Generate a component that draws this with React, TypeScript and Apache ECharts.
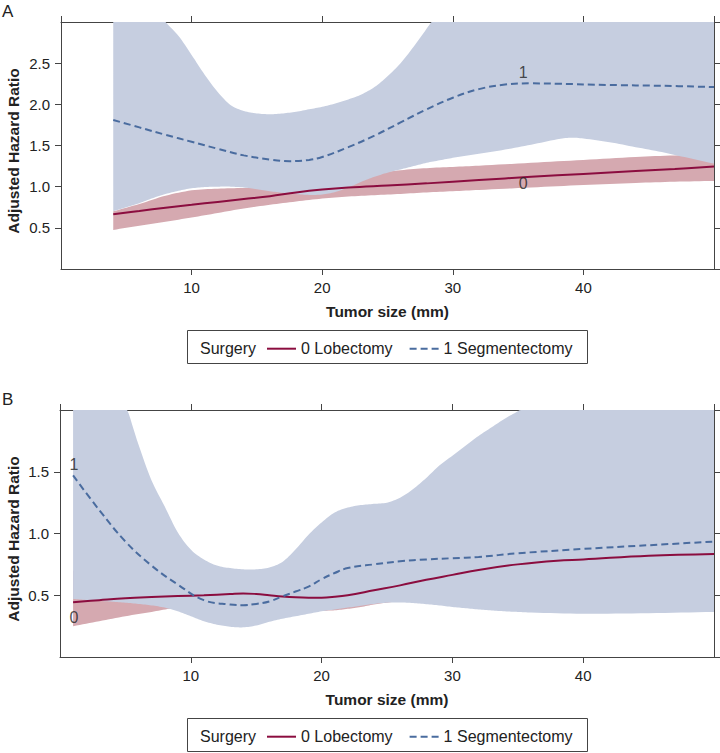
import React, { useEffect, useRef } from 'react';
import * as echarts from 'echarts';

// ---------------- Panel A data ----------------
const aLobX = [4, 6, 8, 10, 12, 14, 16, 18, 20, 22, 25, 28, 32, 36, 40, 44, 47, 50];
const aLobY = [0.665, 0.705, 0.745, 0.78, 0.815, 0.85, 0.885, 0.93, 0.965, 0.99, 1.015, 1.04, 1.08, 1.12, 1.155, 1.19, 1.215, 1.245];

const aSegX = [4, 6, 8, 10, 12, 14, 16, 17.5, 19, 20, 22, 24, 26, 28, 30, 32, 34, 36, 38, 42, 46, 50];
const aSegY = [1.81, 1.72, 1.63, 1.545, 1.46, 1.38, 1.33, 1.31, 1.325, 1.36, 1.48, 1.62, 1.78, 1.94, 2.08, 2.185, 2.24, 2.255, 2.25, 2.235, 2.225, 2.21];

const aLobBandX = [4, 6, 8, 10, 12, 14, 16, 18, 20, 22, 24, 26, 28, 30, 32, 36, 40, 44, 47, 50];
const aLobBandLo = [0.475, 0.525, 0.575, 0.625, 0.68, 0.735, 0.78, 0.82, 0.855, 0.88, 0.897, 0.912, 0.93, 0.945, 0.96, 0.99, 1.02, 1.045, 1.06, 1.07];
const aLobBandHi = [0.7, 0.79, 0.89, 0.955, 0.975, 0.985, 0.995, 1.02, 1.05, 1.1, 1.16, 1.2, 1.225, 1.24, 1.255, 1.29, 1.325, 1.36, 1.38, 1.39];

const aSegBandX = [4, 5, 6, 7, 8, 9, 10, 11, 12, 13, 14, 15, 16, 17, 18, 19, 20, 21, 22, 23, 24, 25, 26, 27, 28, 29, 30, 32, 34, 36, 38, 39, 40, 42, 44, 46, 48, 50];
const aSegBandLo = [0.7, 0.75, 0.8, 0.86, 0.91, 0.95, 0.98, 0.995, 1.0, 1.0, 0.99, 0.97, 0.945, 0.925, 0.91, 0.9, 0.905, 0.935, 0.99, 1.06, 1.12, 1.17, 1.21, 1.25, 1.29, 1.32, 1.35, 1.4, 1.45, 1.51, 1.575, 1.595, 1.585, 1.54, 1.48, 1.42, 1.35, 1.28];
const aSegBandHi = [4.0, 3.7, 3.42, 3.2, 3.0, 2.83, 2.6, 2.36, 2.15, 1.99, 1.92, 1.89, 1.88, 1.89, 1.91, 1.94, 1.97, 2.01, 2.06, 2.12, 2.21, 2.34, 2.5, 2.7, 2.92, 3.15, 3.4, 3.8, 4.1, 4.3, 4.45, 4.5, 4.55, 4.65, 4.7, 4.75, 4.8, 4.85];

const aCurveLabels = [
  { text: '1', x: 35.4, y: 2.39 },
  { text: '0', x: 35.4, y: 1.04 },
];

// ---------------- Panel B data ----------------
const bLobX = [1, 3, 5, 7, 9, 11, 13, 14, 15, 16, 17, 18, 19, 20, 21, 22, 24, 26, 28, 30, 32, 35, 38, 40, 45, 50];
const bLobY = [0.444, 0.46, 0.475, 0.485, 0.493, 0.5, 0.51, 0.515, 0.51, 0.5, 0.49, 0.483, 0.48, 0.48, 0.487, 0.5, 0.54, 0.58, 0.625, 0.665, 0.705, 0.75, 0.78, 0.79, 0.82, 0.835];

const bSegX = [1, 3, 5, 7, 9, 11, 13, 14, 15, 16, 17, 18, 19, 20, 21, 22, 24, 26, 28, 30, 32, 35, 40, 45, 50];
const bSegY = [1.47, 1.19, 0.935, 0.74, 0.587, 0.46, 0.425, 0.42, 0.43, 0.45, 0.49, 0.53, 0.57, 0.63, 0.68, 0.72, 0.75, 0.775, 0.79, 0.8, 0.81, 0.84, 0.875, 0.905, 0.935];

const bLobBandX = [1, 3, 5, 7, 8.4, 10, 12, 14, 16, 18, 20, 21, 22, 23, 24, 25, 26, 27, 30, 35, 40, 45, 50];
const bLobBandLo = [0.25, 0.29, 0.33, 0.365, 0.39, 0.4, 0.4, 0.39, 0.38, 0.375, 0.375, 0.378, 0.39, 0.405, 0.425, 0.44, 0.455, 0.47, 0.53, 0.6, 0.64, 0.66, 0.68];
const bLobBandHi = [0.7, 0.66, 0.63, 0.61, 0.6, 0.6, 0.61, 0.62, 0.62, 0.61, 0.6, 0.61, 0.63, 0.65, 0.67, 0.7, 0.72, 0.74, 0.8, 0.88, 0.93, 0.96, 0.98];

const bSegBandX = [1, 2, 3, 4, 5, 6, 7, 8, 9, 10, 11, 12, 13, 14, 15, 16, 17, 18, 19, 20, 21, 22, 23, 24, 25, 26, 27, 28, 29, 30, 31, 32, 33, 34, 35, 36, 40, 45, 50];
const bSegBandLo = [0.47, 0.462, 0.455, 0.448, 0.44, 0.43, 0.418, 0.4, 0.37, 0.33, 0.29, 0.262, 0.245, 0.24, 0.255, 0.285, 0.31, 0.33, 0.35, 0.37, 0.385, 0.4, 0.415, 0.43, 0.44, 0.442, 0.437, 0.428, 0.418, 0.405, 0.395, 0.385, 0.377, 0.37, 0.365, 0.36, 0.35, 0.355, 0.365];
const bSegBandHi = [3.5, 3.0, 2.6, 2.3, 2.05, 1.72, 1.43, 1.22, 1.01, 0.87, 0.79, 0.74, 0.72, 0.71, 0.71, 0.725, 0.77, 0.87, 0.99, 1.09, 1.17, 1.21, 1.23, 1.24, 1.25, 1.29, 1.36, 1.45, 1.55, 1.63, 1.71, 1.79, 1.86, 1.93, 1.99, 2.06, 2.3, 2.6, 2.9];

const bCurveLabels = [
  { text: '1', x: 1.07, y: 1.555 },
  { text: '0', x: 1.07, y: 0.32 },
];

// ---------------- Text ----------------
const legendNames = ['0 Lobectomy', '1 Segmentectomy'];
const legendTitle = 'Surgery';
const xTitle = 'Tumor size (mm)';
const yTitle = 'Adjusted Hazard Ratio';
const panelLetters = ['A', 'B'];

const X_MIN = 0;
const X_MAX = 50;
const X_INTERVAL = 10;
const Y_INTERVAL = 0.5;
const A_Y_MAX = 3;
const B_Y_MAX = 2;

// ---------------- Styles ----------------
const FONT = "'Liberation Sans', Arial, Helvetica, sans-serif";
const TEXT = '#222';
const AXIS = '#444';
const LOB_LINE = '#8b0d3f';
const SEG_LINE = '#4a6c9f';
const LOB_BAND = '#d5a9b0';
const SEG_BAND = '#c6cee0';

const zip = (xs: number[], ys: number[]) => xs.map((x, i) => [x, ys[i]]);

// Smooth (cubic Hermite / Catmull-Rom style) rendering of a polyline given in pixel space
function smoothPixels(pts: number[][], steps: number): number[][] {
  const n = pts.length;
  if (n < 3) return pts.slice();
  const m: number[] = [];
  for (let i = 0; i < n; i++) {
    const a = pts[Math.max(0, i - 1)];
    const b = pts[Math.min(n - 1, i + 1)];
    m.push((b[1] - a[1]) / (b[0] - a[0] || 1));
  }
  const out: number[][] = [];
  for (let i = 0; i < n - 1; i++) {
    const [x0, y0] = pts[i];
    const [x1, y1] = pts[i + 1];
    const h = x1 - x0;
    for (let s = 0; s < steps; s++) {
      const t = s / steps;
      const t2 = t * t;
      const t3 = t2 * t;
      const h00 = 2 * t3 - 3 * t2 + 1;
      const h10 = t3 - 2 * t2 + t;
      const h01 = -2 * t3 + 3 * t2;
      const h11 = t3 - t2;
      out.push([x0 + h * t, h00 * y0 + h10 * h * m[i] + h01 * y1 + h11 * h * m[i + 1]]);
    }
  }
  out.push(pts[n - 1]);
  return out;
}

function bandSeries(name: string, xs: number[], lo: number[], hi: number[], color: string, axisIdx: number, z: number) {
  return {
    type: 'custom',
    name,
    xAxisIndex: axisIdx,
    yAxisIndex: axisIdx,
    clip: true,
    silent: true,
    z,
    data: [[xs[0], lo[0]]],
    renderItem: (params: any, api: any) => {
      const cs = params.coordSys;
      const top = cs.y;
      const bottom = cs.y + cs.height;
      const clampY = (v: number) => Math.max(top, Math.min(bottom, v));
      const loPx = xs.map((x, i) => api.coord([x, lo[i]]));
      const hiPx = xs.map((x, i) => api.coord([x, hi[i]]));
      const loS = smoothPixels(loPx, 8).map((p) => [p[0], clampY(p[1])]);
      const hiS = smoothPixels(hiPx, 8).map((p) => [p[0], clampY(p[1])]).reverse();
      return {
        type: 'polygon',
        shape: { points: loS.concat(hiS) },
        style: { fill: color, stroke: null },
      };
    },
  };
}

function lineSeries(name: string, xs: number[], ys: number[], color: string, dashed: boolean, axisIdx: number, z: number) {
  return {
    type: 'line',
    name,
    xAxisIndex: axisIdx,
    yAxisIndex: axisIdx,
    data: zip(xs, ys),
    smooth: 0.4,
    symbol: 'none',
    showSymbol: false,
    silent: true,
    z,
    lineStyle: { color, width: 2, type: dashed ? [7, 4] : 'solid' },
    itemStyle: { color },
  };
}

function labelSeries(labels: { text: string; x: number; y: number }[], axisIdx: number) {
  return {
    type: 'scatter',
    name: 'curve labels ' + axisIdx,
    xAxisIndex: axisIdx,
    yAxisIndex: axisIdx,
    symbolSize: 1,
    silent: true,
    z: 10,
    itemStyle: { color: 'transparent' },
    label: {
      show: true,
      position: 'inside',
      formatter: '{b}',
      fontSize: 16,
      fontFamily: FONT,
      color: TEXT,
    },
    data: labels.map((l) => ({ name: l.text, value: [l.x, l.y] })),
  };
}

function xAxes(gridIndex: number) {
  const common = {
    type: 'value',
    gridIndex,
    min: X_MIN,
    max: X_MAX,
    interval: X_INTERVAL,
    splitLine: { show: false },
    axisLine: { show: true, onZero: false, lineStyle: { color: AXIS, width: 1 } },
    axisTick: { show: true, inside: false, length: 6, lineStyle: { color: AXIS, width: 1 } },
  };
  return [
    {
      ...common,
      position: 'bottom',
      axisLabel: {
        show: true,
        margin: 11,
        showMinLabel: false,
        showMaxLabel: false,
        fontSize: 15,
        fontFamily: FONT,
        color: TEXT,
      },
    },
    { ...common, position: 'top', axisLabel: { show: false } },
  ];
}

function yAxes(gridIndex: number, max: number) {
  const common = {
    type: 'value',
    gridIndex,
    min: 0,
    max,
    interval: Y_INTERVAL,
    splitLine: { show: false },
    axisLine: { show: true, onZero: false, lineStyle: { color: AXIS, width: 1 } },
    axisTick: { show: true, inside: false, length: 6, lineStyle: { color: AXIS, width: 1 } },
  };
  return [
    {
      ...common,
      position: 'left',
      axisLabel: {
        show: true,
        margin: 11,
        showMinLabel: false,
        showMaxLabel: false,
        fontSize: 15,
        fontFamily: FONT,
        color: TEXT,
        formatter: (v: number) => v.toFixed(1),
      },
    },
    { ...common, position: 'right', axisLabel: { show: false } },
  ];
}

// Layout (pixels)
const PANEL_OFFSET = 388;
const GRID_A = { left: 61, top: 22, width: 653, height: 247 };
const GRID_B = { left: 60, top: 410, width: 654, height: 247 };

function legendFor(top: number) {
  return {
    data: legendNames.map((n) => ({ name: n, itemStyle: { opacity: 0 } })),
    left: 266,
    top,
    padding: 0,
    itemWidth: 29,
    itemHeight: 14,
    itemGap: 16,
    selectedMode: false,
    itemStyle: { opacity: 0 },
    textStyle: { fontSize: 16, fontFamily: FONT, color: TEXT, lineHeight: 18 },
  };
}

function panelGraphics(offset: number, letter: string, gridCenterX: number) {
  return [
    {
      type: 'text',
      x: 2,
      y: 11 + offset,
      style: { text: letter, fontSize: 17, fontFamily: FONT, fill: TEXT, textAlign: 'left', textVerticalAlign: 'middle' },
    },
    {
      type: 'text',
      x: 13,
      y: 151 + offset,
      rotation: Math.PI / 2,
      style: { text: yTitle, fontSize: 15.5, fontWeight: 'bold', fontFamily: FONT, fill: TEXT, textAlign: 'center', textVerticalAlign: 'middle' },
    },
    {
      type: 'text',
      x: gridCenterX,
      y: 311.7 + offset,
      style: { text: xTitle, fontSize: 15.5, fontWeight: 'bold', fontFamily: FONT, fill: TEXT, textAlign: 'center', textVerticalAlign: 'middle' },
    },
    {
      type: 'rect',
      shape: { x: 187.5, y: 330.5 + offset, width: 400, height: 33 },
      style: { fill: 'none', stroke: AXIS, lineWidth: 1 },
    },
    {
      type: 'text',
      x: 200,
      y: 348.7 + offset,
      style: { text: legendTitle, fontSize: 16, fontFamily: FONT, fill: TEXT, textAlign: 'left', textVerticalAlign: 'middle' },
    },
  ];
}

export default function App() {
  const ref = useRef<HTMLDivElement>(null);

  useEffect(() => {
    if (!ref.current) return;
    const chart = echarts.init(ref.current, null, { renderer: 'svg' });
    const option: any = {
      animation: false,
      backgroundColor: '#ffffff',
      textStyle: { fontFamily: FONT },
      grid: [
        { ...GRID_A, containLabel: false },
        { ...GRID_B, containLabel: false },
      ],
      xAxis: [...xAxes(0), ...xAxes(1)],
      yAxis: [...yAxes(0, A_Y_MAX), ...yAxes(1, B_Y_MAX)],
      legend: [legendFor(339.7), legendFor(339.7 + PANEL_OFFSET)],
      series: [
        // Panel A (axes 0)
        bandSeries('Lobectomy CI A', aLobBandX, aLobBandLo, aLobBandHi, LOB_BAND, 0, 1),
        bandSeries('Segmentectomy CI A', aSegBandX, aSegBandLo, aSegBandHi, SEG_BAND, 0, 2),
        lineSeries(legendNames[0], aLobX, aLobY, LOB_LINE, false, 0, 3),
        lineSeries(legendNames[1], aSegX, aSegY, SEG_LINE, true, 0, 4),
        labelSeries(aCurveLabels, 0),
        // Panel B (axes 2)
        bandSeries('Lobectomy CI B', bLobBandX, bLobBandLo, bLobBandHi, LOB_BAND, 2, 1),
        bandSeries('Segmentectomy CI B', bSegBandX, bSegBandLo, bSegBandHi, SEG_BAND, 2, 2),
        lineSeries(legendNames[0], bLobX, bLobY, LOB_LINE, false, 2, 3),
        lineSeries(legendNames[1], bSegX, bSegY, SEG_LINE, true, 2, 4),
        labelSeries(bCurveLabels, 2),
      ],
      graphic: [
        ...panelGraphics(0, panelLetters[0], GRID_A.left + GRID_A.width / 2),
        ...panelGraphics(PANEL_OFFSET, panelLetters[1], GRID_B.left + GRID_B.width / 2),
      ],
    };
    chart.setOption(option);
    return () => {
      chart.dispose();
    };
  }, []);

  return (
    <div
      ref={ref}
      style={{ position: 'fixed', left: 0, top: 0, width: 720, height: 753, background: '#fff' }}
    />
  );
}
